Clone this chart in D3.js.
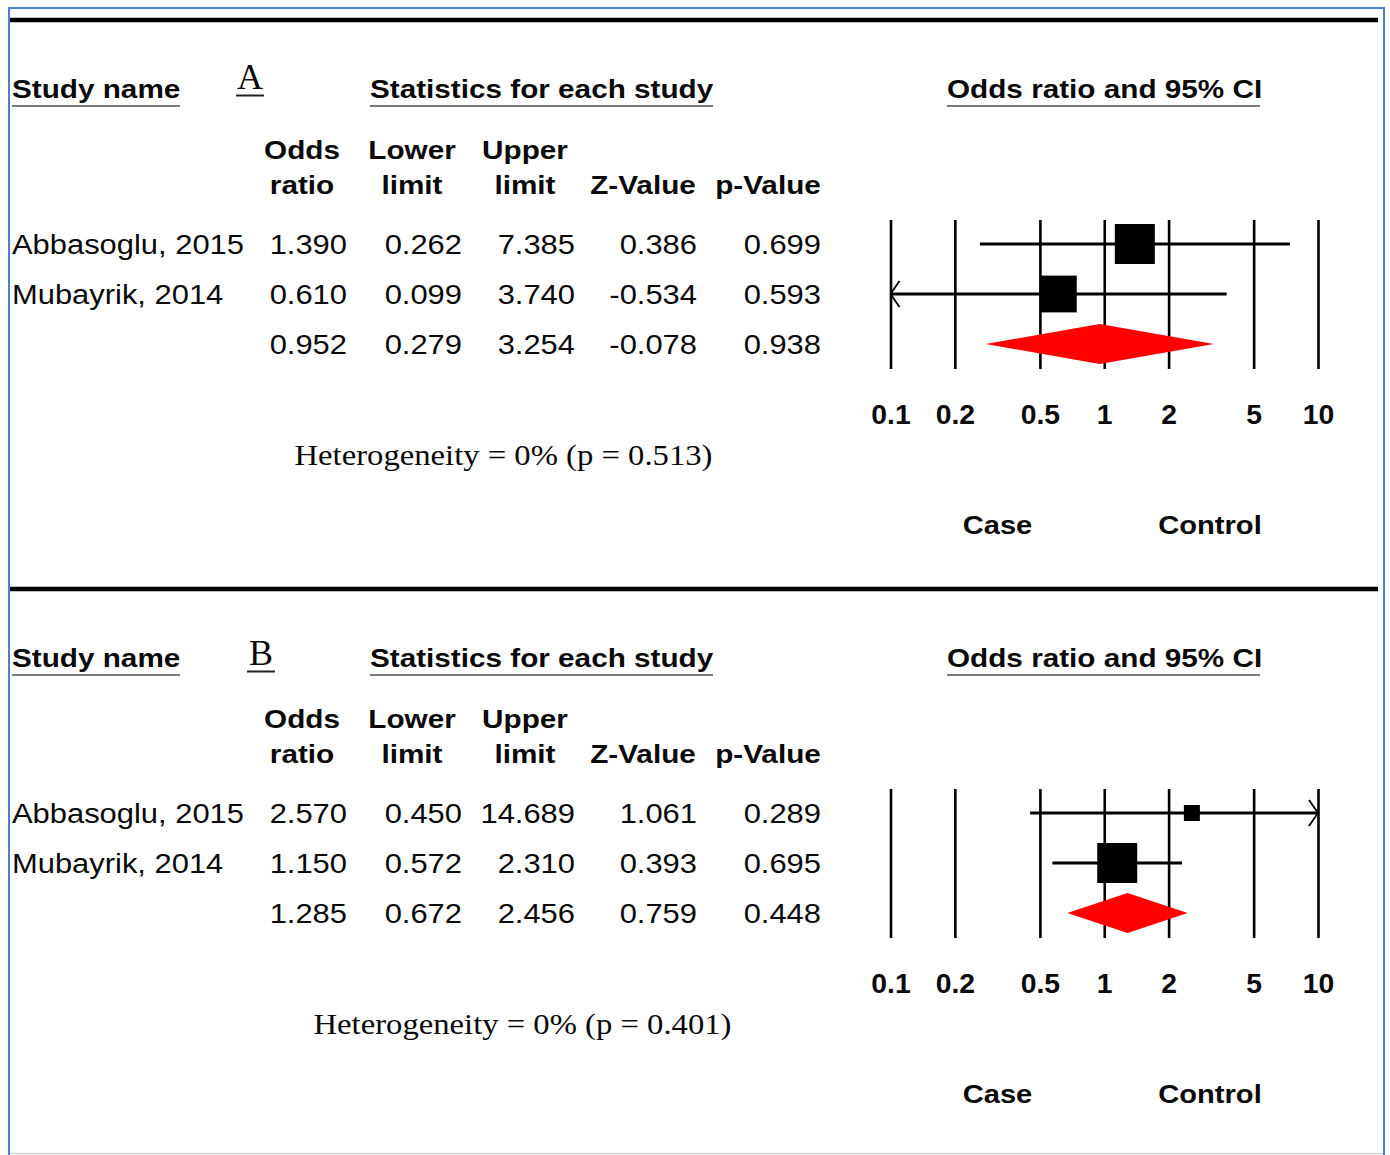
<!DOCTYPE html>
<html>
<head>
<meta charset="utf-8">
<script src="https://cdn.jsdelivr.net/npm/d3@7"></script>
<style>
  html, body { margin: 0; padding: 0; background: #fff; }
  svg { display: block; }
</style>
</head>
<body>
<svg id="chart" width="1390" height="1155"></svg>
<script>
// ---- data ----------------------------------------------------------------
const panelLabels = ["A", "B"];
const studies = ["Abbasoglu, 2015", "Mubayrik, 2014"];

// Panel A: per-study rows followed by the pooled estimate
const oddsRatioA = [1.390, 0.610, 0.952];
const lowerA     = [0.262, 0.099, 0.279];
const upperA     = [7.385, 3.740, 3.254];
const zValueA    = [0.386, -0.534, -0.078];
const pValueA    = [0.699, 0.593, 0.938];
const weightA    = [54.2, 45.8];            // relative weight (%) of each study
const heterogeneityA = "Heterogeneity = 0% (p = 0.513)";

// Panel B
const oddsRatioB = [2.570, 1.150, 1.285];
const lowerB     = [0.450, 0.572, 0.672];
const upperB     = [14.689, 2.310, 2.456];
const zValueB    = [1.061, 0.393, 0.759];
const pValueB    = [0.289, 0.695, 0.448];
const weightB    = [13.8, 86.2];
const heterogeneityB = "Heterogeneity = 0% (p = 0.401)";

const axisTicks = [0.1, 0.2, 0.5, 1, 2, 5, 10];
const headerTop    = ["Odds", "Lower", "Upper", "", ""];
const headerBottom = ["ratio", "limit", "limit", "Z-Value", "p-Value"];
const favourLabels = ["Case", "Control"];

// ---- layout ----------------------------------------------------------------
const SANS = "'Liberation Sans', Arial, Helvetica, sans-serif";
const SERIF = "'Liberation Serif', 'Times New Roman', serif";
const SX = 1.19;               // horizontal stretch of the heading typeface
const PANEL_STEP = 569;        // vertical distance between the two panels

const svg = d3.select("#chart");

// stretch a text element horizontally around its own anchor point
function stretch(sel, sx) {
  sel.each(function () {
    const t = d3.select(this);
    const x = +t.attr("x") || 0, y = +t.attr("y") || 0;
    t.attr("transform", `translate(${x},${y}) scale(${sx},1) translate(${-x},${-y})`);
  });
}

function addText(g, x, y, str, opts) {
  const o = Object.assign({ size: 27, weight: "normal", anchor: "start", family: SANS, sx: 1.145 }, opts || {});
  const t = g.append("text")
    .attr("x", x).attr("y", y)
    .attr("font-family", o.family)
    .attr("font-size", o.size)
    .attr("font-weight", o.weight)
    .attr("text-anchor", o.anchor)
    .attr("fill", "#0a0a0a")
    .text(str);
  stretch(t, o.sx);
  return t;
}

// frame
svg.append("path")
  .attr("d", "M9,1160 V8 H1384 V1160")
  .attr("fill", "none").attr("stroke", "#4f7fd0").attr("stroke-width", 2);
svg.append("line")
  .attr("x1", 10).attr("x2", 1383).attr("y1", 1153.5).attr("y2", 1153.5)
  .attr("stroke", "#d4d4d4").attr("stroke-width", 1.5);

// shared log scale for the odds-ratio plot
const x = d3.scaleLog().domain([0.1, 10]).range([890.5, 1318]);

const panels = [
  { label: panelLabels[0], or: oddsRatioA, lo: lowerA, hi: upperA, z: zValueA, p: pValueA,
    w: weightA, het: heterogeneityA, hetX: 503.5, labelX: 250, labelDy: 0 },
  { label: panelLabels[1], or: oddsRatioB, lo: lowerB, hi: upperB, z: zValueB, p: pValueB,
    w: weightB, het: heterogeneityB, hetX: 522.5, labelX: 261, labelDy: 7 }
];

const colRight  = [347, 462, 575, 697, 821];
const colCenter = [302, 412, 525, 643, 768];
const rowY = d3.scalePoint().domain([0, 1, 2]).range([244, 344]);
const fmt = v => v.toFixed(3);

panels.forEach((pd, i) => {
  const g = svg.append("g").attr("transform", `translate(0,${i * PANEL_STEP})`);

  // heavy rule above the panel
  g.append("line").attr("x1", 10).attr("x2", 1378).attr("y1", 20).attr("y2", 20)
    .attr("stroke", "#000").attr("stroke-width", 4.5);

  // section headings with underlines
  const headings = [
    { text: "Study name", x: 12, x2: 180 },
    { text: "Statistics for each study", x: 370, x2: 713 },
    { text: "Odds ratio and 95% CI", x: 947, x2: 1260 }
  ];
  headings.forEach(h => {
    addText(g, h.x, 98, h.text, { size: 25.5, weight: "bold", sx: 1.165 });
    g.append("line").attr("x1", h.x).attr("x2", h.x2).attr("y1", 106).attr("y2", 106)
      .attr("stroke", "#7a7a7a").attr("stroke-width", 2);
  });

  // panel letter
  addText(g, pd.labelX, 89 + pd.labelDy, pd.label, { size: 36, family: SERIF, anchor: "middle", sx: 1 });
  g.append("line").attr("x1", pd.labelX - 14).attr("x2", pd.labelX + 14)
    .attr("y1", 95.5 + pd.labelDy).attr("y2", 95.5 + pd.labelDy)
    .attr("stroke", "#222").attr("stroke-width", 2);

  // column headers
  const hopt = { size: 25.5, weight: "bold", anchor: "middle", sx: 1.165 };
  headerTop.forEach((h, c) => { if (h) addText(g, colCenter[c], 159, h, hopt); });
  headerBottom.forEach((h, c) => addText(g, colCenter[c], 194, h, hopt));

  // table rows
  const cols = [pd.or, pd.lo, pd.hi, pd.z, pd.p];
  pd.or.forEach((_, r) => {
    const yb = rowY(r) + 10;
    if (r < studies.length) addText(g, 12, yb, studies[r]);
    cols.forEach((col, c) => addText(g, colRight[c], yb, fmt(col[r]), { anchor: "end" }));
  });

  // heterogeneity note
  addText(g, pd.hetX, 465.5, pd.het, { size: 30, family: SERIF, anchor: "middle", sx: 1.09 });

  // ---- forest plot ----
  const plot = g.append("g");
  const axis = d3.axisBottom(x)
    .tickValues(axisTicks)
    .tickFormat(d3.format("~g"))
    .tickSizeInner(-149)
    .tickSizeOuter(0)
    .tickPadding(35);
  const ax = plot.append("g").attr("transform", "translate(0,369)").call(axis);
  ax.select(".domain").remove();
  ax.selectAll(".tick line").attr("stroke", "#000").attr("stroke-width", 2.6);
  ax.selectAll(".tick text")
    .attr("fill", "#0a0a0a")
    .attr("font-family", SANS).attr("font-size", 27.5).attr("font-weight", "bold")
    .attr("dy", "0.71em")
    .attr("transform", "scale(1.03,1)");

  const size = d3.scaleSqrt().domain([0, d3.max(pd.w)]).range([0, 40]);

  studies.forEach((_, r) => {
    const y = rowY(r);
    const lo = Math.max(pd.lo[r], x.domain()[0]);
    const hi = Math.min(pd.hi[r], x.domain()[1]);
    plot.append("line").attr("x1", x(lo)).attr("x2", x(hi)).attr("y1", y).attr("y2", y)
      .attr("stroke", "#000").attr("stroke-width", 3.2);
    // open arrowheads where the interval runs off the scale
    if (pd.lo[r] < x.domain()[0]) {
      const ex = x(x.domain()[0]);
      plot.append("path").attr("d", `M${ex + 9},${y - 13} L${ex},${y} L${ex + 9},${y + 13}`)
        .attr("fill", "none").attr("stroke", "#000").attr("stroke-width", 1.8);
    }
    if (pd.hi[r] > x.domain()[1]) {
      const ex = x(x.domain()[1]);
      plot.append("path").attr("d", `M${ex - 9},${y - 13} L${ex},${y} L${ex - 9},${y + 13}`)
        .attr("fill", "none").attr("stroke", "#000").attr("stroke-width", 1.8);
    }
    const s = size(pd.w[r]);
    plot.append("rect").attr("x", x(pd.or[r]) - s / 2).attr("y", y - s / 2)
      .attr("width", s).attr("height", s).attr("fill", "#000");
  });

  // pooled estimate diamond
  const k = studies.length, yd = rowY(k);
  plot.append("polygon")
    .attr("points", [
      [x(pd.lo[k]), yd], [x(pd.or[k]), yd - 20], [x(pd.hi[k]), yd], [x(pd.or[k]), yd + 20]
    ].map(p => p.join(",")).join(" "))
    .attr("fill", "#ff0000");

  // favour labels under the axis
  addText(g, 997.5, 534.5, favourLabels[0], { size: 26, weight: "bold", anchor: "middle", sx: 1.12 });
  addText(g, 1210, 534.5, favourLabels[1], { size: 26, weight: "bold", anchor: "middle", sx: 1.12 });
});
</script>
</body>
</html>
